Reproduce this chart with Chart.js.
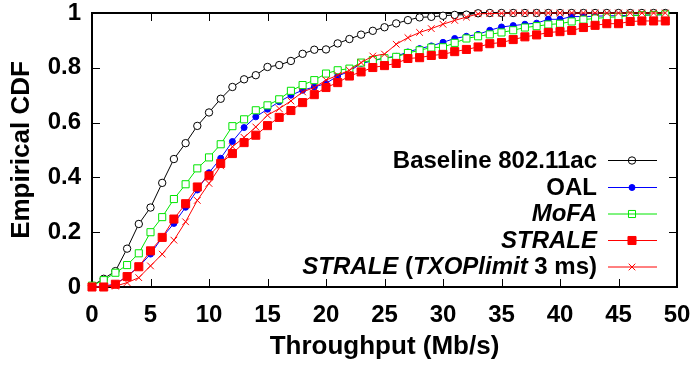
<!DOCTYPE html>
<html>
<head>
<meta charset="utf-8">
<script src="https://cdn.jsdelivr.net/npm/chart.js@4.4.1/dist/chart.umd.min.js"></script>
<style>
  html, body { margin: 0; padding: 0; background: #fff; }
  #cdfChart { display: block; }
</style>
</head>
<body>
<canvas id="cdfChart" width="697" height="365"></canvas>
<script>
// throughput samples (Mb/s), one point per integer
const throughput = [0,1,2,3,4,5,6,7,8,9,10,11,12,13,14,15,16,17,18,19,20,21,22,23,24,
  25,26,27,28,29,30,31,32,33,34,35,36,37,38,39,40,41,42,43,44,45,46,47,48,49];

const baseline = [0.005,0.03,0.058,0.14,0.23,0.29,0.38,0.467,0.525,0.588,0.637,0.687,0.73,0.758,0.773,
  0.803,0.81,0.825,0.851,0.866,0.867,0.889,0.905,0.921,0.935,0.948,0.962,0.974,0.984,0.986,
  0.99,0.993,0.994,0.999,1,1,1,1,1,1,1,1,1,1,1,1,1,1,1,1];

const oal = [0,0.004,0.01,0.04,0.074,0.12,0.181,0.232,0.291,0.354,0.417,0.47,0.531,0.582,0.621,
  0.649,0.676,0.7,0.718,0.73,0.743,0.77,0.787,0.816,0.825,0.836,0.842,0.858,0.87,0.88,
  0.893,0.907,0.915,0.922,0.937,0.949,0.954,0.959,0.963,0.977,0.977,0.987,0.987,0.988,0.99,
  0.99,0.992,0.992,0.993,0.993];

const mofa = [0.005,0.025,0.052,0.08,0.123,0.2,0.255,0.321,0.375,0.433,0.473,0.521,0.587,0.612,0.645,
  0.663,0.685,0.716,0.737,0.755,0.779,0.791,0.797,0.819,0.828,0.835,0.84,0.854,0.864,0.874,
  0.875,0.891,0.907,0.915,0.922,0.929,0.937,0.947,0.952,0.958,0.961,0.969,0.976,0.98,0.984,
  0.986,0.99,0.992,0.993,0.995];

const strale = [0,0,0.01,0.038,0.074,0.132,0.181,0.248,0.304,0.365,0.406,0.451,0.487,0.527,0.554,
  0.589,0.619,0.644,0.673,0.702,0.728,0.746,0.77,0.785,0.801,0.808,0.816,0.834,0.837,0.845,
  0.849,0.859,0.867,0.876,0.888,0.892,0.903,0.913,0.92,0.929,0.932,0.936,0.947,0.955,0.961,
  0.961,0.969,0.971,0.971,0.971];

const straleTxop = [0,0,0.003,0.016,0.034,0.077,0.12,0.171,0.238,0.316,0.378,0.442,0.512,0.546,0.584,
  0.627,0.651,0.679,0.712,0.728,0.755,0.773,0.791,0.819,0.843,0.85,0.886,0.91,0.929,0.943,
  0.959,0.973,0.985,0.997,0.998,0.999,1,1,1,1,1,1,1,1,1,1,1,1,1,1];

const xTicks = [0,5,10,15,20,25,30,35,40,45,50];
const yTicks = [0,0.2,0.4,0.6,0.8,1];

const FONT = '"Liberation Sans", Arial, Helvetica, sans-serif';

function pts(ys) {
  return throughput.map((x, i) => ({ x: x, y: ys[i] }));
}

// legend labels, mixed italic segments like the gnuplot original
const legendRows = [
  { parts: [['Baseline 802.11ac', false]], ds: 0 },
  { parts: [['OAL', false]], ds: 1 },
  { parts: [['MoFA', true]], ds: 2 },
  { parts: [['STRALE', true]], ds: 3 },
  { parts: [['STRALE', true], [' (', false], ['TXOPlimit', true], [' 3 ms)', false]], ds: 4 }
];

function drawMarker(ctx, style, r, x, y, color, filled) {
  ctx.save();
  ctx.strokeStyle = color;
  ctx.fillStyle = color;
  ctx.lineWidth = 1;
  ctx.beginPath();
  if (style === 'circle') {
    ctx.arc(x, y, r, 0, Math.PI * 2);
  } else if (style === 'rect') {
    const s = r * Math.SQRT1_2;
    ctx.rect(x - s, y - s, 2 * s, 2 * s);
  } else if (style === 'crossRot') {
    const s = r * Math.SQRT1_2;
    ctx.moveTo(x - s, y - s); ctx.lineTo(x + s, y + s);
    ctx.moveTo(x - s, y + s); ctx.lineTo(x + s, y - s);
  }
  if (filled && style !== 'crossRot') ctx.fill();
  ctx.stroke();
  ctx.restore();
}

const framePlugin = {
  id: 'frame',
  beforeDatasetsDraw(chart) {
    const { ctx, chartArea: a, scales } = chart;
    ctx.save();
    ctx.strokeStyle = '#000';
    ctx.lineWidth = 1;
    ctx.beginPath();
    xTicks.forEach(v => {
      const px = Math.round(scales.x.getPixelForValue(v)) + 0.5;
      ctx.moveTo(px, a.bottom); ctx.lineTo(px, a.bottom - 8);
      ctx.moveTo(px, a.top); ctx.lineTo(px, a.top + 8);
    });
    yTicks.forEach(v => {
      const py = Math.round(scales.y.getPixelForValue(v)) + 0.5;
      ctx.moveTo(a.left, py); ctx.lineTo(a.left + 8, py);
      ctx.moveTo(a.right, py); ctx.lineTo(a.right - 8, py);
    });
    ctx.stroke();
    ctx.lineWidth = 2;
    ctx.strokeRect(a.left, a.top, a.right - a.left, a.bottom - a.top);
    ctx.restore();
  },
  afterDraw(chart) {
    const ctx = chart.ctx;
    const textRight = 597, lineL = 608, lineR = 657, markX = 632;
    const rowY = [160, 187, 213.5, 240, 266.5];
    ctx.save();
    ctx.textBaseline = 'middle';
    ctx.textAlign = 'left';
    legendRows.forEach((row, i) => {
      const ds = chart.data.datasets[row.ds];
      const y = rowY[i];
      let w = 0;
      row.parts.forEach(p => {
        ctx.font = (p[1] ? 'italic ' : '') + 'bold 24px ' + FONT;
        w += ctx.measureText(p[0]).width;
      });
      let x = textRight - w;
      ctx.fillStyle = '#000';
      row.parts.forEach(p => {
        ctx.font = (p[1] ? 'italic ' : '') + 'bold 24px ' + FONT;
        ctx.fillText(p[0], x, y + 1);
        x += ctx.measureText(p[0]).width;
      });
      ctx.strokeStyle = ds.borderColor;
      ctx.lineWidth = 1;
      ctx.beginPath();
      ctx.moveTo(lineL, y + 0.5); ctx.lineTo(lineR, y + 0.5);
      ctx.stroke();
      const filled = ds.pointBackgroundColor !== '#fff';
      drawMarker(ctx, ds.pointStyle, ds.pointRadius, markX, y + 0.5, ds.borderColor, filled);
    });
    ctx.restore();
  }
};

function series(label, ys, color, style, radius, filled, order) {
  return {
    label: label,
    data: pts(ys),
    borderColor: color,
    backgroundColor: color,
    borderWidth: 1,
    pointStyle: style,
    pointRadius: radius,
    pointBorderWidth: 1,
    pointBorderColor: color,
    pointBackgroundColor: filled ? color : '#fff',
    tension: 0,
    clip: false,
    order: order
  };
}

new Chart(document.getElementById('cdfChart'), {
  type: 'line',
  data: {
    datasets: [
      series('Baseline 802.11ac', baseline, '#000000', 'circle', 3.7, false, 5),
      series('OAL', oal, '#0000ff', 'circle', 3, true, 4),
      series('MoFA', mofa, '#00e600', 'rect', 5, false, 3),
      series('STRALE', strale, '#ff0000', 'rect', 5.7, true, 2),
      series('STRALE (TXOPlimit 3 ms)', straleTxop, '#ff0000', 'crossRot', 4.7, false, 1)
    ]
  },
  options: {
    responsive: false,
    devicePixelRatio: 1,
    animation: false,
    layout: { padding: { left: 0, right: 20, top: 13, bottom: 0 } },
    plugins: { legend: { display: false }, tooltip: { enabled: false } },
    scales: {
      x: {
        type: 'linear',
        min: 0,
        max: 50,
        grid: { display: false, drawTicks: false },
        border: { display: false },
        afterBuildTicks: s => { s.ticks = xTicks.map(v => ({ value: v })); },
        afterFit: s => { s.height = 78; s.paddingLeft = 0; s.paddingRight = 0; },
        ticks: {
          color: '#000',
          font: { family: FONT, size: 24, weight: 'bold', lineHeight: 1 },
          padding: 16,
          maxRotation: 0,
          autoSkip: false
        },
        title: {
          display: true,
          text: 'Throughput (Mb/s)',
          color: '#000',
          font: { family: FONT, size: 26, weight: 'bold', lineHeight: 1.2 },
          padding: { top: 3, bottom: 3 }
        }
      },
      y: {
        min: 0,
        max: 1,
        grid: { display: false, drawTicks: false },
        border: { display: false },
        afterBuildTicks: s => { s.ticks = yTicks.map(v => ({ value: v })); },
        afterFit: s => { s.width = 92; s.paddingTop = 0; s.paddingBottom = 0; },
        ticks: {
          color: '#000',
          font: { family: FONT, size: 24, weight: 'bold', lineHeight: 1 },
          padding: 11,
          callback: v => String(v)
        },
        title: {
          display: true,
          text: 'Empirical CDF',
          color: '#000',
          font: { family: FONT, size: 26, weight: 'bold', lineHeight: 1.2 },
          padding: { top: 6, bottom: 4 }
        }
      }
    }
  },
  plugins: [framePlugin]
});
</script>
</body>
</html>
